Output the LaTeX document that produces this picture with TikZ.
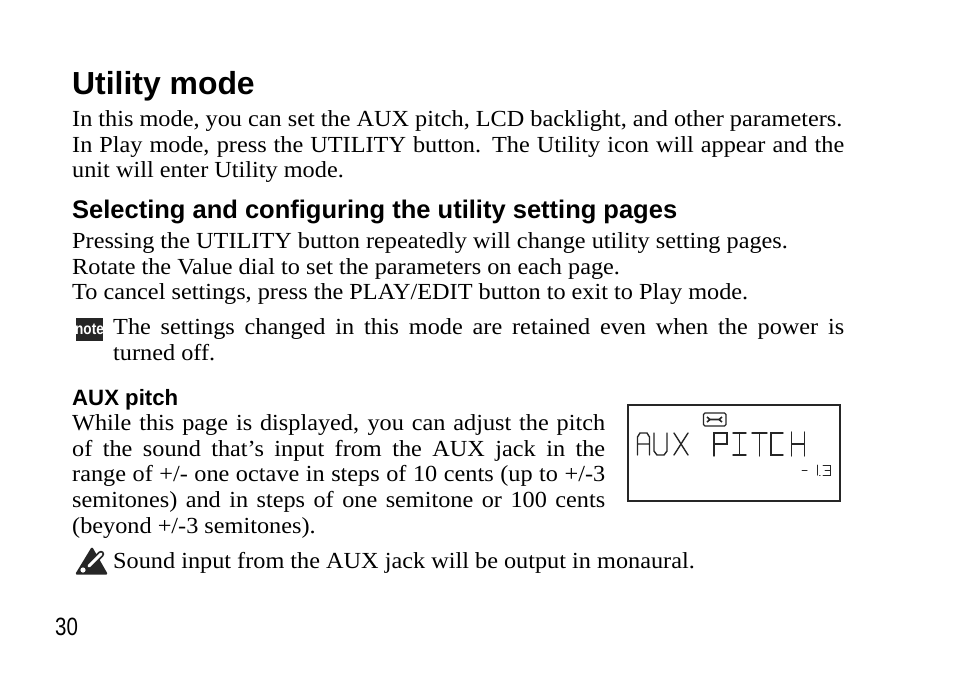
\documentclass[tikz,border=0pt]{standalone}
\usepackage{fontspec}
\setmainfont[FakeStretch=1.055]{Liberation Serif}
\setsansfont{Liberation Sans}
\tikzset{
  bodytext/.style={anchor=north west,inner sep=0pt,align=justify,font=\fontsize{23}{25.9}\selectfont},
  headtext/.style={anchor=base west,inner sep=0pt,font=\sffamily\bfseries\fontsize{#1}{#1}\selectfont},
  lcdseg/.style={line width=1.4pt,line cap=round,black!85}
}
\begin{document}
\begin{tikzpicture}[x=1pt,y=-1pt]
  \useasboundingbox (0,0) rectangle (954,673);
  \fill[white] (0,0) rectangle (954,673);
  % headings
  \node[headtext=31.9] (title) at (72,94) {Utility mode};
  \node[headtext=25.5] (select) at (72,218) {Selecting and configuring the utility setting pages};
  \node[headtext=22.2] (auxhead) at (72,405) {AUX pitch};
  \node[anchor=base west,inner sep=0pt,xscale=.82,font=\sffamily\fontsize{25}{25}\selectfont] (pageno) at (55,635) {30};
  % body
  \node[bodytext,text width=772] (intro) at (72,110) {In this mode, you can set the AUX pitch, LCD backlight, and other parameters.\\
    In Play mode, press the UTILITY button. The Utility icon will appear and the\linebreak
    unit will enter Utility mode.};
  \node[bodytext,text width=772] (steps) at (72,232) {Pressing the UTILITY button repeatedly will change utility setting pages.\\
    Rotate the Value dial to set the parameters on each page.\\
    To cancel settings, press the PLAY/EDIT button to exit to Play mode.};
  \node[bodytext,text width=731] (notetext) at (113,318) {The settings changed in this mode are retained even when the power is\linebreak
    turned off.};
  \node[bodytext,text width=533] (auxtext) at (72,414) {While this page is displayed, you can adjust the pitch\linebreak
    of the sound that’s input from the AUX jack in the\linebreak
    range of +/- one octave in steps of 10 cents (up to +/-3\linebreak
    semitones) and in steps of one semitone or 100 cents\linebreak
    (beyond +/-3 semitones).};
  \node[bodytext,text width=731] (warntext) at (113,552) {Sound input from the AUX jack will be output in monaural.};
  % note icon
  \fill[black!85] (76,318) rectangle (103,341);
  \node[inner sep=0pt,text=white,xscale=.85,font=\sffamily\bfseries\fontsize{16}{16}\selectfont] (noteicon) at (89.5,329) {note};
  % warning icon
  \fill[black!85,rounded corners=1.5pt] (92,546.5) -- (108,574.5) -- (75,574.5) -- cycle;
  \draw[black!85,line width=6.5pt,line cap=round] (101,554) -- (89,566);
  \draw[white,line width=3pt,line cap=round] (101,554) -- (89,566);
  \fill[white] (83,570) circle (2.6);
  % lcd
  \draw[line width=1.3pt,black!85] (628,405) rectangle (840,501);
  \draw[line width=1.2pt,rounded corners=1.5pt,black!85] (703.5,413) rectangle (726,426);
  \draw[line width=1.6pt,black!85] (707,417) -- (710,419.5) -- (719,419.5) -- (722,417) (707,422) -- (710,419.5) (719,419.5) -- (722,422);
  % lcd letters, A U X
  \draw[lcdseg] (637.5,455) -- (637.5,437) -- (640,433) -- (647,433) -- (649.5,437) -- (649.5,455) (638,444) -- (649,444);
  \draw[lcdseg] (654,433) -- (654,451) -- (657,455) -- (664,455) -- (667,451) -- (667,433);
  \draw[lcdseg] (674,433) -- (681,444) -- (688,433) (674,455) -- (681,444) -- (688,455);
  % P I T C H
  \draw[lcdseg] (714,456) -- (714,433) -- (727,433) -- (727,444) -- (714,444);
  \draw[lcdseg] (733,433) -- (746,433) (739.5,433) -- (739.5,455) (733,455) -- (746,455);
  \draw[lcdseg] (752,433) -- (767,433) (759.5,433) -- (759.5,456);
  \draw[lcdseg] (783,433) -- (771,433) -- (771,455) -- (783,455);
  \draw[lcdseg] (791.5,432) -- (791.5,456) (804.5,432) -- (804.5,456) (792,444) -- (804,444);
  % lcd value
  \draw[lcdseg,line width=1pt] (802,470) -- (807,470);
  \draw[lcdseg,line width=1pt] (817,465) -- (817,475);
  \draw[lcdseg,line width=1pt] (819.5,475) -- (820,475);
  \draw[lcdseg,line width=1pt] (823,465) -- (830,465) -- (830,475) -- (823,475) (825,470) -- (830,470);
\end{tikzpicture}
\end{document}
